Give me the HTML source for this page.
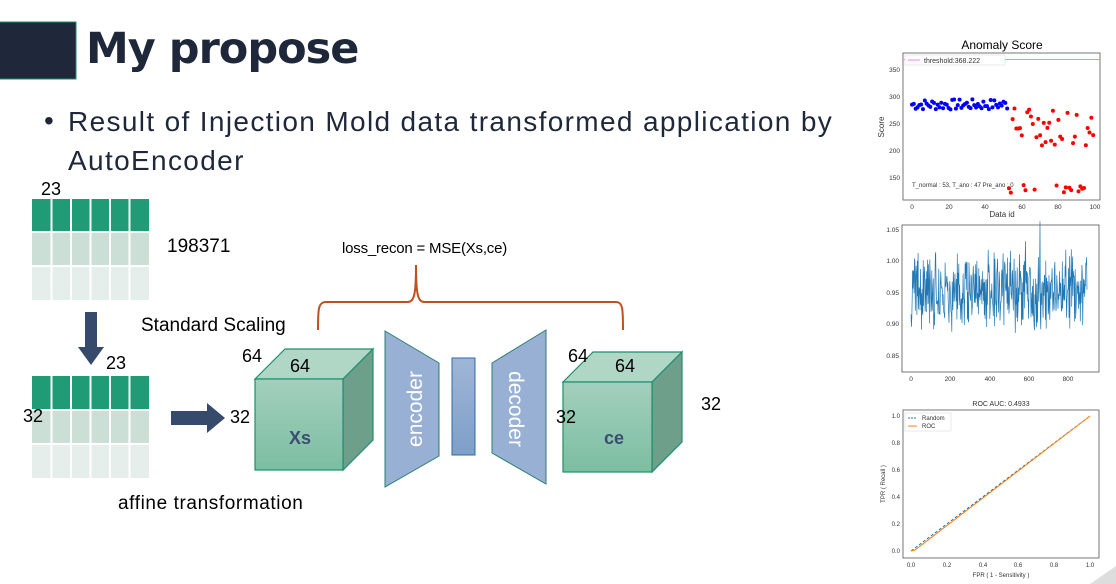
<!DOCTYPE html>
<html><head><meta charset="utf-8"><style>
html,body{margin:0;padding:0;background:#fff;}
body{width:1116px;height:584px;position:relative;overflow:hidden;font-family:"Liberation Sans","DejaVu Sans",sans-serif;}
.t{position:absolute;white-space:nowrap;color:#000;}
</style></head><body>
<svg width="1116" height="584" style="position:absolute;left:0;top:0" xmlns="http://www.w3.org/2000/svg">
<defs>
<linearGradient id="gf" x1="0" y1="0" x2="0" y2="1"><stop offset="0" stop-color="#a3cfbd"/><stop offset="1" stop-color="#7cbea2"/></linearGradient>
<linearGradient id="gb" x1="0" y1="0" x2="0" y2="1"><stop offset="0" stop-color="#9fb6d6"/><stop offset="1" stop-color="#7e9fc8"/></linearGradient>
</defs>
<rect x="-1" y="22" width="77" height="57" fill="#1f283a" stroke="#1e8a6a" stroke-width="1"/>
<g>
<rect x="32" y="199" width="117" height="32" fill="#1f9b76"/>
<rect x="32" y="233" width="117" height="32" fill="#ccdfd6"/>
<rect x="32" y="267" width="117" height="33" fill="#e5eeea"/>
<g stroke="#fff" stroke-width="2"><line x1="51.5" y1="199" x2="51.5" y2="300"/><line x1="71" y1="199" x2="71" y2="300"/><line x1="90.5" y1="199" x2="90.5" y2="300"/><line x1="110" y1="199" x2="110" y2="300"/><line x1="129.5" y1="199" x2="129.5" y2="300"/></g>
</g>
<g transform="translate(0,177)">
<rect x="32" y="199" width="117" height="33" fill="#1f9b76"/>
<rect x="32" y="234" width="117" height="32" fill="#ccdfd6"/>
<rect x="32" y="268" width="117" height="33" fill="#e5eeea"/>
<g stroke="#fff" stroke-width="2"><line x1="51.5" y1="199" x2="51.5" y2="301"/><line x1="71" y1="199" x2="71" y2="301"/><line x1="90.5" y1="199" x2="90.5" y2="301"/><line x1="110" y1="199" x2="110" y2="301"/><line x1="129.5" y1="199" x2="129.5" y2="301"/></g>
</g>
<polygon points="85,312 97,312 97,347 104,347 91,365 78,347 85,347" fill="#364b6b"/>
<polygon points="171,411 207,411 207,403 225,418 207,433 207,425 171,425" fill="#364b6b"/>
<polygon points="255,379 285,349 373,349 343,379" fill="#b0d6c6" stroke="#1e8f6c" stroke-width="1.2"/>
<polygon points="343,379 373,349 373,440 343,470" fill="#6e9f8a" stroke="#1e8f6c" stroke-width="1.2"/>
<rect x="255" y="379" width="88" height="91" fill="url(#gf)" stroke="#1e8f6c" stroke-width="1.2"/>
<polygon points="563,382 593,352 682,352 652,382" fill="#b0d6c6" stroke="#1e8f6c" stroke-width="1.2"/>
<polygon points="652,382 682,352 682,442 652,472" fill="#6e9f8a" stroke="#1e8f6c" stroke-width="1.2"/>
<rect x="563" y="382" width="89" height="90" fill="url(#gf)" stroke="#1e8f6c" stroke-width="1.2"/>
<polygon points="385,331 439,363 439,456 385,487" fill="#98b0d3" stroke="#2a7e72" stroke-width="1"/>
<rect x="452" y="358" width="23" height="97" fill="url(#gb)" stroke="#2e6aa8" stroke-width="1"/>
<polygon points="492,363 546,330 546,484 492,453" fill="#98b0d3" stroke="#2a7e72" stroke-width="1"/>
<text x="0" y="0" transform="translate(422,409) rotate(-90)" text-anchor="middle" font-family="Liberation Sans,sans-serif" font-size="21" fill="#fff">encoder</text>
<text x="0" y="0" transform="translate(509,409) rotate(90)" text-anchor="middle" font-family="Liberation Sans,sans-serif" font-size="21" fill="#fff">decoder</text>
<path d="M318,330 C318,310 318,302 326,302 L407,302 C414,302 416,296 416,265 C416,296 418,302 425,302 L616,302 C623,302 623,310 623,330" fill="none" stroke="#c0501f" stroke-width="2"/>
<g font-family="Liberation Sans,sans-serif" fill="#333">
<text x="1002" y="49" font-size="12" text-anchor="middle" fill="#000">Anomaly Score</text>
<rect x="903" y="53" width="197" height="147" fill="none" stroke="#555" stroke-width="0.8"/>
<line x1="903" y1="59.5" x2="1100" y2="59.5" stroke="#ee82ee" stroke-width="1"/>
<rect x="905" y="55" width="100" height="10" fill="#fff" stroke="#ddd" stroke-width="0.6"/>
<line x1="908" y1="60" x2="920" y2="60" stroke="#ee82ee"/>
<text x="924" y="63" font-size="7">threshold:368.222</text>
<g font-size="6.5" text-anchor="end"><text x="900" y="72">350</text><text x="900" y="99">300</text><text x="900" y="126">250</text><text x="900" y="153">200</text><text x="900" y="180">150</text></g>
<g font-size="6.5" text-anchor="middle"><text x="912" y="209">0</text><text x="949" y="209">20</text><text x="985" y="209">40</text><text x="1022" y="209">60</text><text x="1058" y="209">80</text><text x="1095" y="209">100</text></g>
<text x="1002" y="217" font-size="8" text-anchor="middle">Data id</text>
<text transform="translate(884,127) rotate(-90)" font-size="8" text-anchor="middle">Score</text>
<text x="912" y="187" font-size="6">T_normal : 53, T_ano : 47 Pre_ano : 0</text>
<g id="pts"></g>
</g>
<g font-family="Liberation Sans,sans-serif" fill="#333">
<rect x="902" y="225" width="197" height="147" fill="none" stroke="#555" stroke-width="0.8"/>
<g font-size="6.5" text-anchor="end"><text x="899" y="232">1.05</text><text x="899" y="263">1.00</text><text x="899" y="295">0.95</text><text x="899" y="326">0.90</text><text x="899" y="358">0.85</text></g>
<g font-size="6.5" text-anchor="middle"><text x="911" y="381">0</text><text x="950" y="381">200</text><text x="990" y="381">400</text><text x="1029" y="381">600</text><text x="1068" y="381">800</text></g>
<path id="noise" fill="none" stroke="#1f77b4" stroke-width="0.7"/>
</g>
<g font-family="Liberation Sans,sans-serif" fill="#333">
<text x="1001" y="406" font-size="7" text-anchor="middle">ROC AUC: 0.4933</text>
<rect x="903" y="410" width="196" height="148" fill="none" stroke="#555" stroke-width="0.8"/>
<g font-size="6" text-anchor="end"><text x="900" y="418">1.0</text><text x="900" y="445">0.8</text><text x="900" y="472">0.6</text><text x="900" y="499">0.4</text><text x="900" y="526">0.2</text><text x="900" y="553">0.0</text></g>
<g font-size="6" text-anchor="middle"><text x="911" y="567">0.0</text><text x="947" y="567">0.2</text><text x="983" y="567">0.4</text><text x="1018" y="567">0.6</text><text x="1054" y="567">0.8</text><text x="1090" y="567">1.0</text></g>
<text x="1001" y="577" font-size="6" text-anchor="middle">FPR ( 1 - Sensitivity )</text>
<text transform="translate(885,484) rotate(-90)" font-size="6" text-anchor="middle">TPR ( Recall )</text>
<line x1="911" y1="551" x2="1090" y2="416" stroke="#1f77b4" stroke-width="1" stroke-dasharray="3,2"/>
<polyline points="911,551 915,550 1090,416" fill="none" stroke="#ff7f0e" stroke-width="1"/>
<rect x="905" y="413" width="46" height="18" fill="#fff" stroke="#ddd" stroke-width="0.6"/>
<line x1="908" y1="418" x2="917" y2="418" stroke="#1f77b4" stroke-dasharray="2,1"/>
<line x1="908" y1="426" x2="917" y2="426" stroke="#ff7f0e"/>
<text x="922" y="420" font-size="6">Random</text><text x="922" y="428" font-size="6">ROC</text>
</g>
<polygon points="1090,584 1116,566 1116,584" fill="#ddd"/>
</svg>
<div class="t" style="left:86px;top:24px;font-size:43px;font-weight:bold;color:#1f283a;font-family:'DejaVu Sans','Liberation Sans',sans-serif;letter-spacing:-1px">My propose</div>
<div class="t" style="left:44px;top:105px;font-size:28px;color:#1f283a;">•</div>
<div class="t" style="left:68px;top:106px;font-size:28px;color:#1f283a;letter-spacing:1.35px">Result of Injection Mold data transformed application by</div>
<div class="t" style="left:68px;top:145px;font-size:28px;color:#1f283a;letter-spacing:1.35px">AutoEncoder</div>
<div class="t" style="left:41px;top:179px;font-size:18px">23</div>
<div class="t" style="left:167px;top:236px;font-size:19px">198371</div>
<div class="t" style="left:342px;top:240px;font-size:15px;letter-spacing:-0.2px">loss_recon = MSE(Xs,ce)</div>
<div class="t" style="left:141px;top:315px;font-size:19px">Standard Scaling</div>
<div class="t" style="left:106px;top:353px;font-size:18px">23</div>
<div class="t" style="left:23px;top:406px;font-size:18px">32</div>
<div class="t" style="left:230px;top:407px;font-size:18px">32</div>
<div class="t" style="left:242px;top:346px;font-size:18px">64</div>
<div class="t" style="left:290px;top:356px;font-size:18px">64</div>
<div class="t" style="left:289px;top:428px;font-size:18px;font-weight:bold;color:#3b4e72">Xs</div>
<div class="t" style="left:568px;top:346px;font-size:18px">64</div>
<div class="t" style="left:615px;top:356px;font-size:18px">64</div>
<div class="t" style="left:556px;top:407px;font-size:18px">32</div>
<div class="t" style="left:604px;top:428px;font-size:18px;font-weight:bold;color:#3b4e72">ce</div>
<div class="t" style="left:701px;top:394px;font-size:18px">32</div>
<div class="t" style="left:118px;top:493px;font-size:19px;letter-spacing:0.6px">affine transformation</div>
<script>
var s=7;function r(){s=(s*9301+49297)%233280;return s/233280;}
var g=document.getElementById('pts'),h='';
function Y(v){return 97+(300-v)*0.54;}
for(var i=0;i<53;i++){var v=276+r()*20;h+='<circle cx="'+(912+i*1.83)+'" cy="'+Y(v)+'" r="2" fill="#0000ff"/>';}
for(var i=53;i<100;i++){var v=r()<0.25?122+r()*20:210+r()*72;h+='<circle cx="'+(912+i*1.83)+'" cy="'+Y(v)+'" r="2" fill="#ff0000"/>';}
g.innerHTML=h;
var d='';for(var i=0;i<900;i+=2){var v=0.955+(r()+r()-1)*0.07;if(r()<0.05)v+=(r()-0.5)*0.15;var x=911+i*0.196,y=292.5+(0.95-v)*630;d+=(i?'L':'M')+x.toFixed(1)+','+y.toFixed(1);}
document.getElementById('noise').setAttribute('d',d);
</script>
</body></html>
